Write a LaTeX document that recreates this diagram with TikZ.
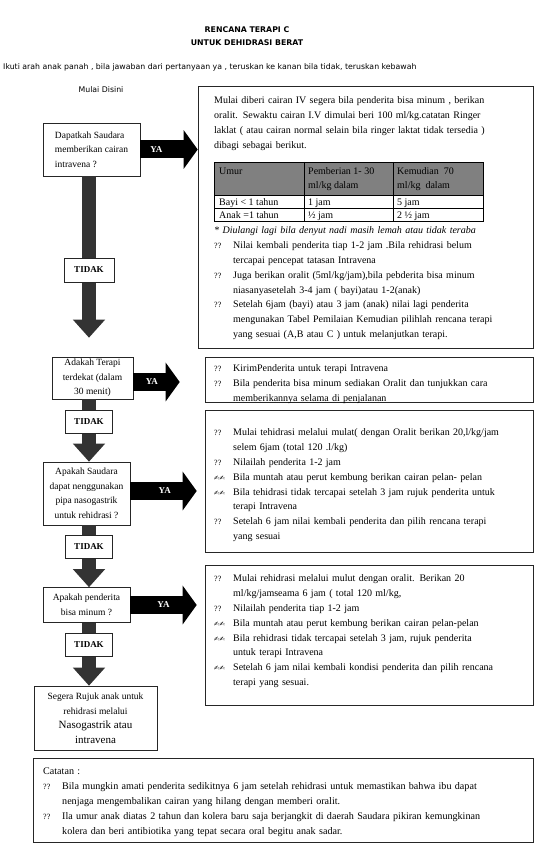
\documentclass[tikz,border=0pt]{standalone}
\usepackage{fontspec}
\setmainfont{Liberation Serif}
\newfontfamily\judulfont{DejaVu Sans}
\newfontfamily\simbolfont{DejaVu Sans}
\usetikzlibrary{arrows.meta}
\definecolor{abu}{HTML}{808080}
\newcommand{\tandaq}{{\fontsize{8}{10}\selectfont ??}}
\newcommand{\pena}{{\simbolfont\fontsize{6.5}{8}\selectfont ✍✍}}
\newcommand{\butir}[2]{\noindent\hangindent=19pt\hangafter=1\makebox[19pt][l]{#1}#2\par}

\begin{document}
\begin{tikzpicture}[x=1pt,y=-1pt,
    tanya/.style={draw=black!85,line width=0.6pt,fill=white,inner sep=1pt,align=center,font=\fontsize{9.5}{14.5}\selectfont},
    tidak/.style={draw=black!85,line width=0.6pt,fill=white,minimum width=47pt,minimum height=23pt,inner sep=0pt,font=\bfseries\fontsize{9}{10}\selectfont},
    kotak/.style={draw=black!85,line width=0.6pt,inner sep=0pt},
    isi/.style={anchor=north west,inner sep=0pt,text width=320pt,align=left,font=\fontsize{10}{14.8}\selectfont},
    sel/.style={anchor=base west,inner sep=0pt,font=\fontsize{10}{12}\selectfont},
    turun/.style={draw=black!80,line width=14pt,-{Triangle[length=18pt,width=31pt]}},
    kanan/.style={draw=black,line width=18pt,-{Triangle[length=14pt,width=38pt]}},
    ya/.style={text=white,font=\bfseries\fontsize{9}{10}\selectfont}]

    \useasboundingbox (0,0) rectangle (545,853);

    % judul dan petunjuk
    \node[font=\judulfont\bfseries\fontsize{7.8}{13}\selectfont,align=center] (judul) at (247,36) {RENCANA TERAPI C\\UNTUK DEHIDRASI BERAT};
    \node[font=\judulfont\fontsize{7.8}{9}\selectfont,anchor=west,inner sep=0pt] (petunjuk) at (3,67) {Ikuti arah anak panah , bila jawaban dari pertanyaan ya , teruskan ke kanan bila tidak, teruskan kebawah};
    \node[font=\judulfont\fontsize{7.8}{9}\selectfont] (mulai) at (101,90) {Mulai Disini};

    % pertanyaan di kiri
    \node[tanya,minimum width=97pt,minimum height=53pt,align=left] (q1) at (91.5,149.5) {Dapatkah Saudara\\memberikan cairan\\intravena ?};
    \node[tanya,minimum width=81pt,minimum height=42pt] (q2) at (92.5,378) {Adakah Terapi\\terdekat (dalam\\30 menit)};
    \node[tanya,minimum width=87pt,minimum height=63pt] (q3) at (86.5,493.5) {Apakah Saudara\\dapat nenggunakan\\pipa nasogastrik\\untuk rehidrasi ?};
    \node[tanya,minimum width=87pt,minimum height=35pt] (q4) at (86.5,605) {Apakah penderita\\bisa minum ?};
    \node[tanya,minimum width=123pt,minimum height=64pt] (q5) at (95.5,718) {Segera Rujuk anak untuk\\rehidrasi melalui\\{\fontsize{11}{14.5}\selectfont Nasogastrik atau}\\{\fontsize{11}{14.5}\selectfont intravena}};

    % kotak di kanan
    \node[kotak,minimum width=335pt,minimum height=262pt] (b1) at (365.5,217) {};
    \node[kotak,minimum width=328pt,minimum height=45pt] (b2) at (369,379.5) {};
    \node[kotak,minimum width=328pt,minimum height=142pt] (b3) at (369,481) {};
    \node[kotak,minimum width=328pt,minimum height=140pt] (b4) at (369,635) {};
    \node[kotak,minimum width=500pt,minimum height=84pt] (b5) at (283,800) {};

    % panah ke bawah
    \coordinate (kolom) at (89,0);
    \draw[turun] (kolom |- q1.south) -- ([yshift=19pt]kolom |- q2.north);
    \draw[turun] (kolom |- q2.south) -- (kolom |- q3.north);
    \draw[turun] (kolom |- q3.south) -- (kolom |- q4.north);
    \draw[turun] (kolom |- q4.south) -- (kolom |- q5.north);
    \node[tidak,minimum width=50pt,minimum height=24pt] (t1) at (89,270) {TIDAK};
    \node[tidak] (t2) at (89,421.5) {TIDAK};
    \node[tidak] (t3) at (89,546.5) {TIDAK};
    \node[tidak] (t4) at (89,644.5) {TIDAK};

    % panah ke kanan
    \draw[kanan] (q1.east) -- (b1.west |- q1.east) node[ya,pos=0.28] {YA};
    \draw[kanan] ([yshift=-4pt]q2.east) -- ([xshift=-25pt,yshift=-4pt]b2.west |- q2.east) node[ya,pos=0.4] {YA};
    \draw[kanan] ([yshift=2.5pt]q3.east) -- ([xshift=-8pt,yshift=2.5pt]b3.west |- q3.east) node[ya,pos=0.52] {YA};
    \draw[kanan] (q4.east) -- ([xshift=-8pt]b4.west |- q4.east) node[ya,pos=0.5] {YA};

    % isi kotak pertama
    \node[isi] (b1a) at (214,96.7) {Mulai diberi cairan IV segera bila penderita bisa minum , berikan\\
        oralit. Sewaktu cairan I.V dimulai beri 100 ml/kg.catatan Ringer\\
        laklat ( atau cairan normal selain bila ringer laktat tidak tersedia )\\
        dibagi sebagai berikut.};
    \fill[abu] (214,162) rectangle (483,195);
    \draw[line width=0.6pt] (214,162) rectangle (483,221);
    \draw[line width=0.6pt] (214,195) -- (483,195) (214,208) -- (483,208) (304,162) -- (304,221) (393,162) -- (393,221);
    \node[sel] (umur) at (219,174.5) {Umur};
    \node[sel] (awal) at (308,174.5) {Pemberian 1- 30};
    \node[sel] at (308,189) {ml/kg dalam};
    \node[sel] (lanjut) at (397,174.5) {Kemudian~ 70};
    \node[sel] at (397,189) {ml/kg~ dalam};
    \node[sel] (bayi) at (219,205) {Bayi < 1 tahun};
    \node[sel] at (308,205) {1 jam};
    \node[sel] at (397,205) {5 jam};
    \node[sel] (anak) at (219,218) {Anak =1 tahun};
    \node[sel] at (308,218) {½ jam};
    \node[sel] at (397,218) {2 ½ jam};
    \node[isi] (b1b) at (214,226.7) {\textit{* Diulangi lagi bila denyut nadi masih lemah atau tidak teraba}\par
        \butir{\tandaq}{Nilai kembali penderita tiap 1-2 jam .Bila rehidrasi belum\newline tercapai pencepat tatasan Intravena}
        \butir{\tandaq}{Juga berikan oralit (5ml/kg/jam),bila pebderita bisa minum\newline niasanyasetelah 3-4 jam ( bayi)atau 1-2(anak)}
        \butir{\tandaq}{Setelah 6jam (bayi) atau 3 jam (anak) nilai lagi penderita\newline mengunakan Tabel Pemilaian Kemudian pilihlah rencana terapi\newline yang sesuai (A,B atau C ) untuk melanjutkan terapi.}};

    % isi kotak lain
    \node[isi] (b2isi) at (214,364.7) {\butir{\tandaq}{KirimPenderita untuk terapi Intravena}
        \butir{\tandaq}{Bila penderita bisa minum sediakan Oralit dan tunjukkan cara\newline memberikannya selama di penjalanan}};
    \node[isi] (b3isi) at (214,428.7) {\butir{\tandaq}{Mulai tehidrasi melalui mulat( dengan Oralit berikan 20,l/kg/jam\newline selem 6jam (total 120 .l/kg)}
        \butir{\tandaq}{Nilailah penderita 1-2 jam}
        \butir{\pena}{Bila muntah atau perut kembung berikan cairan pelan- pelan}
        \butir{\pena}{Bila tehidrasi tidak tercapai setelah 3 jam rujuk penderita untuk\newline terapi Intravena}
        \butir{\tandaq}{Setelah 6 jam nilai kembali penderita dan pilih rencana terapi\newline yang sesuai}};
    \node[isi] (b4isi) at (214,574.7) {\butir{\tandaq}{Mulai rehidrasi melalui mulut dengan oralit. Berikan 20\newline ml/kg/jamseama 6 jam ( total 120 ml/kg,}
        \butir{\tandaq}{Nilailah penderita tiap 1-2 jam}
        \butir{\pena}{Bila muntah atau perut kembung berikan cairan pelan-pelan}
        \butir{\pena}{Bila rehidrasi tidak tercapai setelah 3 jam, rujuk penderita\newline untuk terapi Intravena}
        \butir{\pena}{Setelah 6 jam nilai kembali kondisi penderita dan pilih rencana\newline terapi yang sesuai.}};
    \node[isi,text width=485pt,font=\fontsize{10.1}{15}\selectfont] (b5isi) at (43,767.7) {Catatan :\par
        \butir{\tandaq}{Bila mungkin amati penderita sedikitnya 6 jam setelah rehidrasi untuk memastikan bahwa ibu dapat\newline nenjaga mengembalikan cairan yang hilang dengan memberi oralit.}
        \butir{\tandaq}{Ila umur anak diatas 2 tahun dan kolera baru saja berjangkit di daerah Saudara pikiran kemungkinan\newline kolera dan beri antibiotika yang tepat secara oral begitu anak sadar.}};

\end{tikzpicture}
\end{document}
